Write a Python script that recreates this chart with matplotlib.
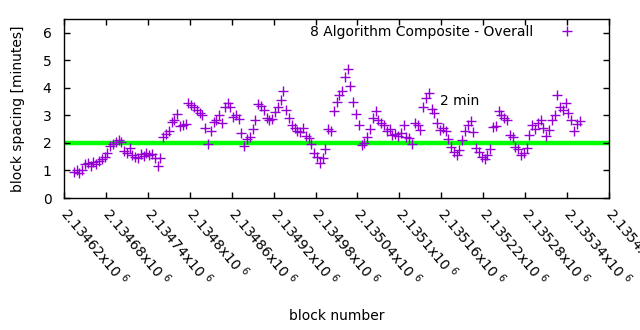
import numpy as np
import matplotlib
matplotlib.use("Agg")
import matplotlib.pyplot as plt

plt.rcParams['font.family'] = ['DejaVu Sans']
plt.rcParams['font.size'] = 10
plt.rcParams['mathtext.default'] = 'regular'

# block spacing in minutes (one reading every 4 blocks)
first_block = 2134634
block_step = 4
spacing = [
    0.95, 1.00, 0.92, 1.02, 1.22, 1.28, 1.15, 1.30, 1.22, 1.35,
    1.40, 1.50, 1.62, 1.90, 1.95, 2.02, 2.12, 2.05, 1.70, 1.65,
    1.80, 1.55, 1.50, 1.45, 1.60, 1.52, 1.62, 1.55, 1.58, 1.45,
    1.15, 1.45, 2.20, 2.32, 2.45, 2.75, 2.85, 3.05, 2.60, 2.65,
    2.70, 3.45, 3.38, 3.30, 3.20, 3.10, 3.00, 2.55, 1.95, 2.45,
    2.75, 2.85, 3.02, 2.72, 3.30, 3.45, 3.32, 2.95, 3.00, 2.88,
    2.35, 1.88, 2.15, 2.22, 2.50, 2.85, 3.40, 3.35, 3.20, 2.92,
    2.82, 2.88, 3.12, 3.30, 3.55, 3.88, 3.20, 2.92, 2.65, 2.55,
    2.45, 2.38, 2.55, 2.25, 2.18, 1.95, 1.62, 1.50, 1.28, 1.45,
    1.78, 2.52, 2.45, 3.15, 3.50, 3.75, 3.88, 4.40, 4.68, 4.05,
    3.50, 3.05, 2.65, 1.92, 1.98, 2.22, 2.52, 2.90, 3.15, 2.85,
    2.72, 2.65, 2.42, 2.50, 2.30, 2.32, 2.25, 2.35, 2.65, 2.20,
    2.18, 1.95, 2.72, 2.65, 2.48, 3.32, 3.62, 3.80, 3.25, 3.08,
    2.72, 2.47, 2.53, 2.45, 2.15, 1.87, 1.68, 1.55, 1.75, 2.10,
    2.42, 2.65, 2.78, 2.40, 1.82, 1.68, 1.50, 1.40, 1.55, 1.78,
    2.58, 2.60, 3.15, 3.02, 2.90, 2.84, 2.30, 2.22, 1.85, 1.78,
    1.55, 1.65, 1.82, 2.28, 2.66, 2.52, 2.72, 2.84, 2.55, 2.25,
    2.47, 2.84, 3.02, 3.75, 3.32, 3.20, 3.44, 3.08, 2.84, 2.45,
    2.70, 2.78,
]
blocks = first_block + block_step * np.arange(len(spacing))

target = 2
x_ticks = [2134620 + 60 * k for k in range(14)]
x_tick_names = ["2.13462", "2.13468", "2.13474", "2.1348", "2.13486", "2.13492",
                "2.13498", "2.13504", "2.1351", "2.13516", "2.13522", "2.13528",
                "2.13534", "2.1354"]

fig = plt.figure(figsize=(6.4, 3.3), dpi=100)
ax = fig.add_axes([0.1, 0.4, 0.8516, 0.5424])

ax.plot(blocks, spacing, linestyle='none', marker='+', color='#9400d3',
        markersize=6.5, markeredgewidth=1.0, label='8 Algorithm Composite - Overall')
ax.axhline(target, color='#00ff00', linewidth=3.2, zorder=1)
ax.text(2135158, 3.53, '2 min', va='center', ha='left')

ax.set_xlim(2134620, 2135400)
ax.set_ylim(0, 6.5)
ax.set_yticks(range(7))
ax.set_xticks(x_ticks)
ax.set_xticklabels([n + "x10 $^{6}$" for n in x_tick_names], rotation=-50,
                   ha='left', va='center', rotation_mode='anchor')
ax.tick_params(direction='in', length=4, width=1, top=True, right=True)
ax.tick_params(axis='y', pad=9)
ax.tick_params(axis='x', pad=9)
for s in ax.spines.values():
    s.set_linewidth(1.0)

ax.set_ylabel('block spacing [minutes]')
ax.set_xlabel('block number')
ax.yaxis.set_label_coords(-0.072, 0.5)
ax.xaxis.set_label_coords(0.5, -0.62)

ax.legend(loc='upper right', bbox_to_anchor=(0.9486, 0.966), borderaxespad=0,
          borderpad=0, frameon=False, markerfirst=False, handlelength=2,
          handletextpad=1.43)

fig.savefig('out.png', dpi=100)
